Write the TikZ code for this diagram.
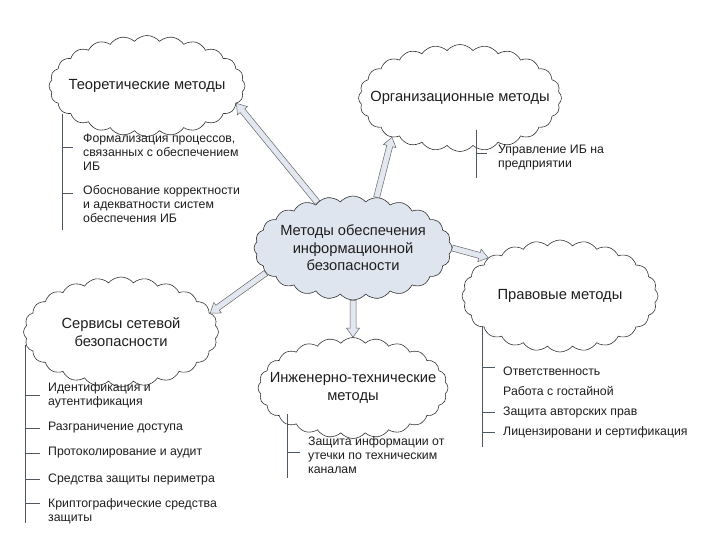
\documentclass[tikz,border=0pt]{standalone}
\usepackage{fontspec}
\setmainfont{Liberation Sans}
\usetikzlibrary{shapes.symbols,calc}
\definecolor{cloudfill}{HTML}{DFE5EF}
\definecolor{arrowfill}{HTML}{E2E7F0}
\definecolor{txt}{HTML}{1E1E1E}
\definecolor{treeline}{HTML}{4E5864}
\tikzset{
  cloudbox/.style={shape=cloud, cloud puffs=24, cloud puff arc=100, cloud ignores aspect,
    draw=black!80, line width=0.6pt, fill=white, inner sep=0pt},
  cloudtext/.style={inner sep=0pt, align=center, text=txt,
    font=\fontsize{14.7}{17.5}\selectfont},
  itemtext/.style={anchor=west, inner sep=0pt, align=left, text=txt,
    font=\fontsize{12.3}{14}\selectfont},
  treestroke/.style={draw=treeline, line width=0.6pt},
  barrow/.style={draw=black!60, fill=arrowfill, line width=0.5pt, line join=miter,
    to path={let \p1=(\tikztostart), \p2=(\tikztotarget),
      \n1={atan2(\y2-\y1,\x2-\x1)}, \n2={veclen(\x2-\x1,\y2-\y1)} in
      ($(\p1)+(\n1+90:3pt)$) -- ($(\p1)+(\n1:\n2-9pt)+(\n1+90:3pt)$)
      -- ($(\p1)+(\n1:\n2-9pt)+(\n1+90:6.5pt)$) -- (\p2)
      -- ($(\p1)+(\n1:\n2-9pt)+(\n1-90:6.5pt)$) -- ($(\p1)+(\n1:\n2-9pt)+(\n1-90:3pt)$)
      -- ($(\p1)+(\n1-90:3pt)$) -- cycle}}
}
\begin{document}
\begin{tikzpicture}[x=1pt,y=-1pt]
\useasboundingbox[fill=white] (0,0) rectangle (720,540);

% clouds
\node[cloudbox, minimum width=196pt, minimum height=101pt] (theo) at (147,86) {};
\node[cloudbox, minimum width=203pt, minimum height=107pt] (org) at (460,98) {};
\node[cloudbox, minimum width=198pt, minimum height=104pt, fill=cloudfill] (ctr) at (353,248) {};
\node[cloudbox, minimum width=196pt, minimum height=112pt] (prav) at (560,296) {};
\node[cloudbox, minimum width=190pt, minimum height=101pt] (eng) at (353,388) {};
\node[cloudbox, minimum width=195pt, minimum height=110pt] (serv) at (121,332) {};

\node[cloudtext] (theo-t) at (theo) {Теоретические методы};
\node[cloudtext] (org-t) at (org) {Организационные методы};
\node[cloudtext] (ctr-t) at (ctr) {Методы обеспечения\\информационной\\безопасности};
\node[cloudtext] (prav-t) at (prav) {Правовые методы};
\node[cloudtext] (eng-t) at (eng) {Инженерно-технические\\методы};
\node[cloudtext] (serv-t) at (serv) {Сервисы сетевой\\безопасности};

% arrows
\draw[barrow] (ctr.128) to (theo.-11);
\draw[barrow] (ctr.65) to (org.210);
\draw[barrow] (ctr.0) to (prav.152);
\draw[barrow] (ctr.south) to (eng.north);
\draw[barrow] (ctr.196) to (serv.12);

% theoretical methods list
\node[itemtext] (t1) at (83,152) {Формализация процессов,\\связанных с обеспечением\\ИБ};
\node[itemtext] (t2) at (83,204) {Обоснование корректности\\и адекватности систем\\обеспечения ИБ};
\draw[treestroke] (62,114) -- (62,230);
\draw[treestroke] (62,147) -- (73,147);
\draw[treestroke] (62,193) -- (73,193);

% organizational
\node[itemtext] (o1) at (498,157.5) {Управление ИБ на\\предприятии};
\draw[treestroke] (476,130) -- (476,178);
\draw[treestroke] (476,153) -- (487,153);

% legal
\node[itemtext] (p1) at (503,371) {Ответственность};
\node[itemtext] (p2) at (503,391) {Работа с гостайной};
\node[itemtext] (p3) at (503,412) {Защита авторских прав};
\node[itemtext] (p4) at (503,432) {Лицензировани и сертификация};
\draw[treestroke] (482,326) -- (482,447);
\draw[treestroke] (482,367) -- (495,367);
\draw[treestroke] (482,412) -- (495,412);
\draw[treestroke] (482,432) -- (495,432);

% engineering
\node[itemtext] (e1) at (308,455.5) {Защита информации от\\утечки по техническим\\каналам};
\draw[treestroke] (287,414) -- (287,478);
\draw[treestroke] (287,452) -- (300,452);

% network services
\node[itemtext] (s1) at (48,395) {Идентификация и\\аутентификация};
\node[itemtext] (s2) at (48,428) {Разграничение доступа};
\node[itemtext] (s3) at (48,453) {Протоколирование и аудит};
\node[itemtext] (s4) at (48,479) {Средства защиты периметра};
\node[itemtext] (s5) at (48,511) {Криптографические средства\\защиты};
\draw[treestroke] (25,345) -- (25,523);
\foreach \yy in {395,428,453,479,503} \draw[treestroke] (25,\yy) -- (40,\yy);
\end{tikzpicture}
\end{document}
